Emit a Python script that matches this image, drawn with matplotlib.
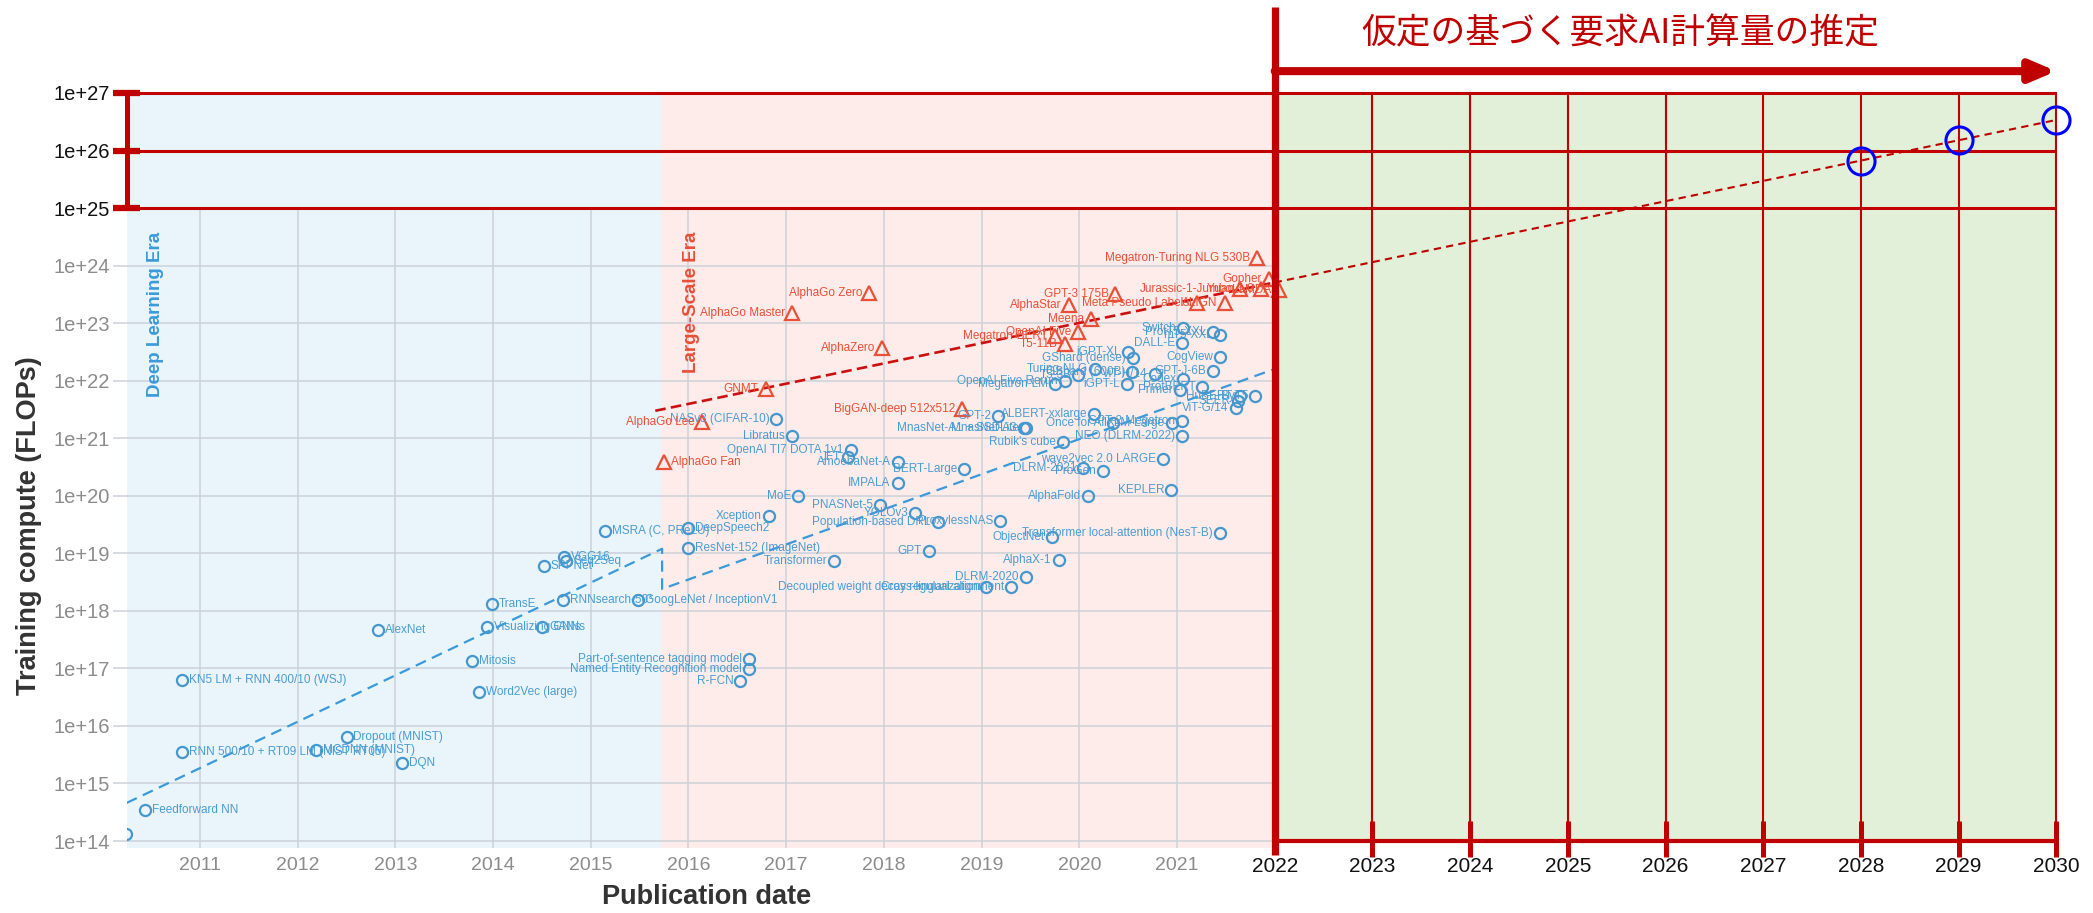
import matplotlib
matplotlib.use("Agg")
import matplotlib.pyplot as plt
from matplotlib import font_manager

# ── Data ──────────────────────────────────────────────────────────────────────

# Regular-scale models (blue circles)
CIRCLE_NAMES = [
    "6-layer MLP (MNIST)", "Feedforward NN", "RNN 500/10 + RT09 LM (NIST RT05)",
    "KN5 LM + RNN 400/10 (WSJ)", "MCDNN (MNIST)", "Dropout (MNIST)", "DQN",
    "AlexNet", "Mitosis", "Word2Vec (large)", "Visualizing CNNs", "TransE",
    "GANs", "SPPNet", "VGG16", "Seq2Seq", "RNNsearch-50*",
    "GoogLeNet / InceptionV1", "MSRA (C, PReLU)", "DeepSpeech2",
    "ResNet-152 (ImageNet)", "Part-of-sentence tagging model",
    "Named Entity Recognition model", "R-FCN", "NASv3 (CIFAR-10)", "Libratus",
    "OpenAI TI7 DOTA 1v1", "JFT", "AmoebaNet-A", "BERT-Large", "IMPALA", "MoE",
    "PNASNet-5", "YOLOv3", "Xception", "Population-based DRL", "ProxylessNAS",
    "ObjectNet", "Transformer local-attention (NesT-B)", "GPT", "Transformer",
    "AlphaX-1", "DLRM-2020", "Decoupled weight decay regularization",
    "Cross-lingual alignment", "GPT-2", "MnasNet-A1 + SSDLite", "MnasNet-A3",
    "ALBERT-xxlarge", "Rubik's cube", "Once for All", "AlphaFold", "KEPLER",
    "DLRM-2021", "ProGen", "wave2vec 2.0 LARGE", "NEO (DLRM-2022)",
    "GPT-2 Megatron", "XLM-Large", "Megatron-LM", "OpenAI Five Rerun", "T5-3B",
    "Turing-NLG", "GShard (600B)", "iGPT-L", "ViT-H/14", "Codex", "Primer",
    "ProtBERT", "ViT-G/14", "HuBERT", "SEER", "ByT5", "Switch", "ProtT5-XXL",
    "mT5-XXL", "DALL-E", "CogView", "iGPT-XL", "GShard (dense)", "GPT-J-6B",
]
CIRCLE_DATES = [
    2010.24, 2010.44, 2010.82, 2010.82, 2012.19, 2012.50, 2013.07,
    2012.82, 2013.78, 2013.86, 2013.94, 2013.99,
    2014.50, 2014.52, 2014.73, 2014.75, 2014.72,
    2015.48, 2015.15, 2016.00,
    2016.00, 2016.62,
    2016.62, 2016.53, 2016.90, 2017.06,
    2017.66, 2017.63, 2018.14, 2018.82, 2018.14, 2017.12,
    2017.96, 2018.32, 2016.82, 2018.55, 2019.19,
    2019.72, 2021.44, 2018.46, 2017.49,
    2019.79, 2019.45, 2019.05,
    2019.30, 2019.17, 2019.45, 2019.43,
    2020.15, 2019.83, 2020.35, 2020.09, 2020.94,
    2020.04, 2020.24, 2020.86, 2021.05,
    2021.05, 2020.95, 2019.75, 2019.85, 2019.99,
    2020.16, 2020.54, 2020.49, 2020.77, 2021.06, 2021.03,
    2021.26, 2021.60, 2021.64, 2021.62, 2021.80, 2021.06, 2021.37,
    2021.44, 2021.05, 2021.44, 2020.50, 2020.55, 2021.37,
]
CIRCLE_FLOPS = [
    1.35e14, 3.5e14, 3.5e15, 6.3e16, 3.8e15, 6.3e15, 2.3e15,
    4.7e17, 1.35e17, 3.9e16, 5.2e17, 1.3e18,
    5.2e17, 6.0e18, 8.7e18, 7.4e18, 1.55e18,
    1.55e18, 2.4e19, 2.75e19,
    1.23e19, 1.48e17,
    9.8e16, 6.0e16, 2.2e21, 1.1e21,
    6.3e20, 4.8e20, 3.9e20, 2.95e20, 1.7e20, 9.8e19,
    6.8e19, 5.1e19, 4.5e19, 3.5e19, 3.7e19,
    1.95e19, 2.3e19, 1.1e19, 7.4e18,
    7.8e18, 3.9e18, 2.6e18,
    2.6e18, 2.45e21, 1.5e21, 1.5e21,
    2.6e21, 8.7e20, 1.86e21, 1.0e20, 1.26e20,
    3.1e20, 2.7e20, 4.4e20, 1.1e21,
    2.0e21, 1.86e21, 8.9e21, 1.0e22, 1.26e22,
    1.6e22, 1.4e22, 8.9e21, 1.3e22, 1.07e22, 6.9e21,
    7.9e21, 3.4e21, 5.5e21, 4.4e21, 5.5e21, 8.3e22, 7.1e22,
    6.3e22, 4.6e22, 2.6e22, 3.2e22, 2.5e22, 1.5e22,
]

# Large-scale models (red triangles)
TRI_NAMES = [
    "AlphaGo Fan", "AlphaGo Lee", "GNMT", "AlphaGo Master", "AlphaGo Zero",
    "AlphaZero", "BigGAN-deep 512x512", "Megatron-BERT", "T5-11B",
    "OpenAI Five", "AlphaStar", "Meena", "GPT-3 175B", "Meta Pseudo Labels",
    "ALIGN", "Jurassic-1-Jumbo", "Yuan 1.0", "LaMDA", "Gopher",
    "Megatron-Turing NLG 530B",
]
TRI_DATES = [
    2015.75, 2016.14, 2016.79, 2017.06, 2017.85,
    2017.98, 2018.80, 2019.75, 2019.85,
    2019.99, 2019.89, 2020.12, 2020.37, 2021.20,
    2021.49, 2021.64, 2021.86, 2022.04, 2021.94,
    2021.82,
]
TRI_FLOPS = [
    3.9e20, 1.95e21, 7.2e21, 1.5e23, 3.4e23,
    3.7e22, 3.2e21, 6.0e22, 4.3e22,
    6.9e22, 2.1e23, 1.2e23, 3.2e23, 2.2e23,
    2.2e23, 3.9e23, 4.0e23, 3.8e23, 5.9e23,
    1.38e24,
]

# Models whose label sits to the right of the marker
RIGHT_LABELED = set(CIRCLE_NAMES[:21]) | {"AlphaGo Fan"}

# Trend lines
DL_TREND_DATES = [2010.25, 2015.73, 2015.73, 2022.0]
DL_TREND_FLOPS = [4.6e14, 1.2e19, 2.4e18, 1.6e22]
LS_TREND_DATES = [2015.66, 2022.0]
LS_TREND_FLOPS = [3.0e21, 5.1e23]

# Projection (overlay)
PROJ_DATES = [2022.0, 2030.0]
PROJ_FLOPS = [5.1e23, 3.4e26]
TARGET_YEARS = [2028, 2029, 2030]
TARGET_FLOPS = [6.6e25, 1.5e26, 3.4e26]
TARGET_LEVELS = [1e25, 1e26, 1e27]

ERA_BOUNDS = [2010.25, 2015.72, 2022.0, 2030.0]
CHART_YEARS = list(range(2011, 2022))
PROJ_YEARS = list(range(2022, 2031))
Y_EXPONENTS = list(range(14, 28))

TITLE = "仮定の基づく要求AI計算量の推定"

# ── Styles ────────────────────────────────────────────────────────────────────

_avail = {f.name for f in font_manager.fontManager.ttflist}


def pick(*names):
    for n in names:
        if n in _avail:
            return n
    return "DejaVu Sans"


def e(p):
    """10 ** p as float (log axis helper)."""
    return 10.0 ** p


SANS = pick("Liberation Sans", "Arial", "DejaVu Sans")
NARROW = pick("Liberation Sans Narrow", "Liberation Sans", "DejaVu Sans")
YEAR_SIZE = 17 if NARROW == "Liberation Sans Narrow" else 15

BLUE_BG = "#EAF4FB"
PINK_BG = "#FDECEA"
GREEN_BG = "#E2EFD9"
RED = "#C00000"
BLUE = "#4597CE"
BLUE_TXT = "#4A9DD3"
ORANGE = "#EA4F37"
GRID = "#CDD1D8"
GRAY_TXT = "#8C8C8C"

# ── Figure ────────────────────────────────────────────────────────────────────

fig = plt.figure(figsize=(20.93, 9.13), dpi=100)
ax = fig.add_axes([0.06054, 0.07065, 0.92193, 0.82749])
ax.set_yscale("log")
ax.set_xlim(2010.25, 2030.0)
ax.set_ylim(e(13.87), 1e27)
for s in ax.spines.values():
    s.set_visible(False)

# era backgrounds
ax.axvspan(ERA_BOUNDS[0], ERA_BOUNDS[1], color=BLUE_BG, lw=0, zorder=0)
ax.axvspan(ERA_BOUNDS[1], ERA_BOUNDS[2], color=PINK_BG, lw=0, zorder=0)
ax.fill_between(ERA_BOUNDS[2:], 1e14, 1e27, color=GREEN_BG, lw=0, zorder=0)

# original grid
for k in range(14, 25):
    ax.plot([ERA_BOUNDS[0], ERA_BOUNDS[2]], [e(k)] * 2, color=GRID, lw=1.1, zorder=1)
for yr in CHART_YEARS:
    ax.plot([yr, yr], [e(13.87), 1e25], color=GRID, lw=1.1, zorder=1)

# y ticks
ax.set_yticks([e(k) for k in Y_EXPONENTS])
ax.set_yticklabels([f"1e+{k}" for k in Y_EXPONENTS])
ax.yaxis.set_minor_locator(matplotlib.ticker.NullLocator())
ax.tick_params(axis="y", length=10, width=1.1, color=GRID, pad=2, labelsize=14.5)
for lab, k in zip(ax.get_yticklabels(), Y_EXPONENTS):
    lab.set_fontfamily(SANS)
    lab.set_color("#111111" if k >= 25 else GRAY_TXT)
ax.set_xticks([])

# x labels (original chart and projection)
for yr in CHART_YEARS:
    ax.text(yr, e(13.58), str(yr), ha="center", va="center", fontsize=14,
            color=GRAY_TXT, fontfamily=SANS, clip_on=False)
for yr in PROJ_YEARS:
    ax.text(yr, e(13.55), str(yr), ha="center", va="center", fontsize=YEAR_SIZE,
            color="#111111", fontfamily=NARROW, clip_on=False)

# trend lines
ax.plot(DL_TREND_DATES, DL_TREND_FLOPS, color="#3A9AD9", lw=1.6,
        linestyle=(0, (5, 3)), zorder=2)
ax.plot(LS_TREND_DATES, LS_TREND_FLOPS, color="#CC1010", lw=1.9,
        linestyle=(0, (4, 2)), zorder=2)

# models
ax.plot(CIRCLE_DATES, CIRCLE_FLOPS, "o", ms=8, mfc="none", mec=BLUE, mew=1.6, zorder=3)
ax.plot(TRI_DATES, TRI_FLOPS, "^", ms=9.5, mfc="none", mec=ORANGE, mew=1.6, zorder=3)
for names, dates, flops, col in [(CIRCLE_NAMES, CIRCLE_DATES, CIRCLE_FLOPS, BLUE_TXT),
                                 (TRI_NAMES, TRI_DATES, TRI_FLOPS, ORANGE)]:
    for n, d, f in zip(names, dates, flops):
        right = n in RIGHT_LABELED
        ax.annotate(n, (d, f), xytext=(5 if right else -5, 0), textcoords="offset points",
                    ha="left" if right else "right", va="center", fontsize=8.5,
                    color=col, fontfamily=SANS, zorder=3)

# era labels
ax.text(2010.54, e(24.59), "Deep Learning Era", rotation=90, ha="center", va="top",
        fontsize=13.5, fontweight="bold", color="#3A9AD9", fontfamily=SANS, zorder=3)
ax.text(2016.03, e(24.59), "Large-Scale Era", rotation=90, ha="center", va="top",
        fontsize=13.5, fontweight="bold", color=ORANGE, fontfamily=SANS, zorder=3)

# ── Overlay ───────────────────────────────────────────────────────────────────

for lv in TARGET_LEVELS:
    ax.plot([ERA_BOUNDS[0], ERA_BOUNDS[3]], [lv, lv], color=RED, lw=2.2, zorder=6,
            clip_on=False, solid_capstyle="butt")
    ax.plot([2010.11, 2010.39], [lv, lv], color=RED, lw=4.5, zorder=7,
            clip_on=False, solid_capstyle="butt")
ax.plot([ERA_BOUNDS[0]] * 2, [1e25, 1e27], color=RED, lw=3.6, zorder=7, clip_on=False)

for yr in PROJ_YEARS[1:]:
    ax.plot([yr, yr], [1e14, 1e27], color=RED, lw=1.5, zorder=5, clip_on=False)
    ax.plot([yr, yr], [e(13.72), e(14.35)], color=RED, lw=3.6, zorder=6,
            clip_on=False, solid_capstyle="butt")
ax.plot([2022, 2030], [1e14, 1e14], color=RED, lw=3, zorder=6, clip_on=False)
ax.plot([2022, 2022], [e(13.76), e(28.5)], color=RED, lw=5.2, zorder=8,
        clip_on=False, solid_capstyle="butt")

ax.plot(PROJ_DATES, PROJ_FLOPS, color=RED, lw=1.5, linestyle=(0, (3.5, 2.5)),
        zorder=6, clip_on=False)
ax.plot(TARGET_YEARS, TARGET_FLOPS, "o", ms=19.5, mfc="none", mec="#0000FF",
        mew=2.2, zorder=9, clip_on=False)

ax.annotate("", xy=(2030.0, e(27.38)), xytext=(2022.0, e(27.38)),
            arrowprops=dict(arrowstyle="-|>,head_length=0.75,head_width=0.32",
                            mutation_scale=20, lw=5.8, color=RED,
                            shrinkA=0, shrinkB=0),
            annotation_clip=False, zorder=8)

fig.text(0.774, 0.963, TITLE, ha="center", va="center", fontsize=25, color=RED,
         fontfamily=["Noto Sans CJK JP", "DejaVu Sans"])

fig.text(0.0139, 0.424, "Training compute (FLOPs)", rotation=90, ha="center",
         va="center", fontsize=19.5, fontweight="bold", color="#333333", fontfamily=SANS)
fig.text(0.3375, 0.0175, "Publication date", ha="center", va="center",
         fontsize=19.5, fontweight="bold", color="#333333", fontfamily=SANS)

fig.savefig("out.png", dpi=100)
